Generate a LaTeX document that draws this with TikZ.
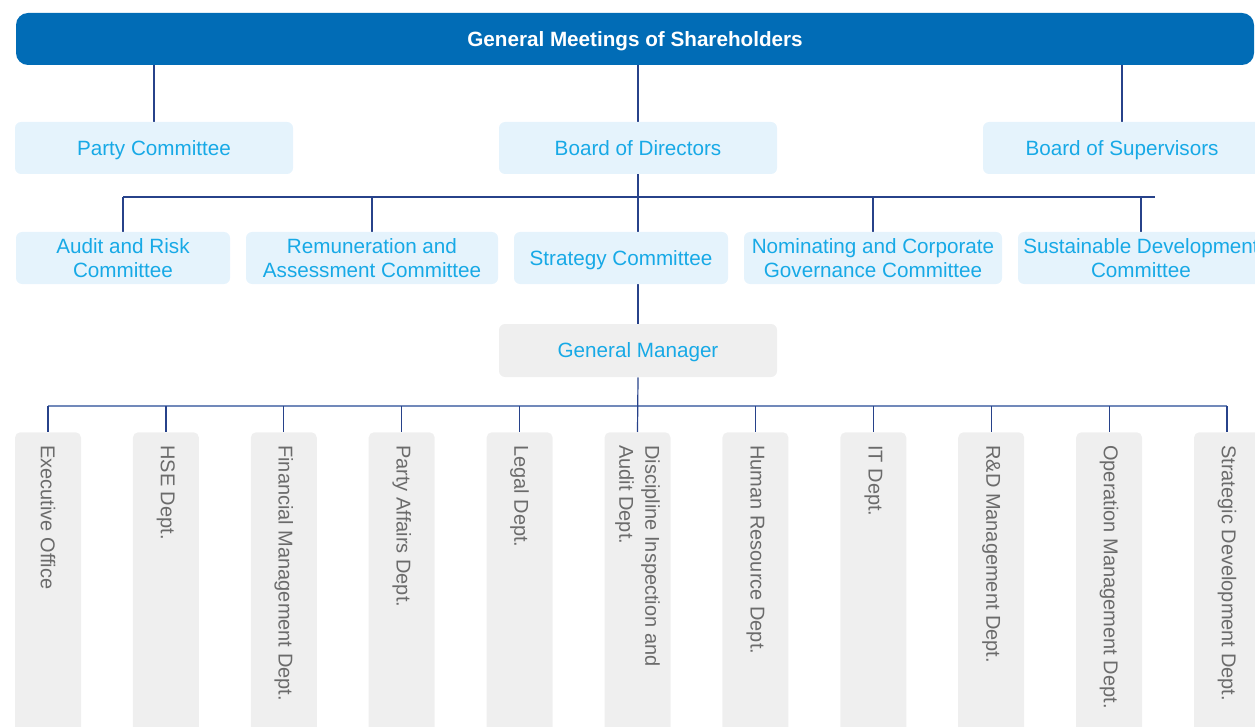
\documentclass[tikz,border=0pt]{standalone}
\usepackage{fontspec}
\setmainfont{Liberation Sans}
\usetikzlibrary{backgrounds}
\definecolor{gmsblue}{HTML}{016CB6}
\definecolor{paleblue}{HTML}{E5F3FC}
\definecolor{cyantext}{HTML}{17A9E6}
\definecolor{palegray}{HTML}{EFEFEF}
\definecolor{graytext}{HTML}{6B6B6B}
\definecolor{linkblue}{HTML}{27428A}
\definecolor{buslight}{HTML}{7189BA}
\tikzset{
	oneline/.style={text height=11.2pt, text depth=0pt},
	twoline/.style={},
	gms/.style={oneline, rounded corners=9pt, fill=gmsblue, text=white, inner sep=0, font=\fontsize{15.5}{18}\selectfont\bfseries},
	board/.style={rounded corners=4.5pt, fill=paleblue, text=cyantext, inner sep=0, align=center},
	gmbox/.style={oneline, rounded corners=4.5pt, fill=palegray, text=cyantext, inner sep=0},
	dept/.style={rounded corners=4pt, fill=palegray, inner sep=0},
	deptlabel/.style={text=graytext, inner sep=0, align=left, font=\fontsize{15}{19.5}\selectfont},
	link/.style={draw=linkblue, line width=0.9pt},
	bus/.style={draw=buslight, line width=1.4pt}
}

\begin{document}
\begin{tikzpicture}[x=0.75pt, y=-0.75pt, font=\fontsize{15.5}{18}\selectfont]
	\def\px{0.75pt} % one pixel of the reference
	\path[use as bounding box] (0,0) rectangle (1255,727);
	
	%--- shareholders ---
	\node[gms, minimum width=1238*\px, minimum height=52*\px] (gms) at (635,39) {General Meetings of Shareholders};
	
	%--- second level ---
	\node[board, oneline, minimum width=278*\px, minimum height=52*\px] (pc) at (154,148) {Party Committee};
	\node[board, oneline, minimum width=278*\px, minimum height=52*\px] (bod) at (638,148) {Board of Directors};
	\node[board, oneline, minimum width=278*\px, minimum height=52*\px] (bos) at (1122,148) {Board of Supervisors};
	
	%--- board committees ---
	\foreach \n/\x/\w/\s/\t in {arc/123/214/twoline/{Audit and Risk\\Committee},
		rac/372/252/twoline/{Remuneration and\\Assessment Committee},
		sc/621/214/oneline/{Strategy Committee},
		ngc/873/258/twoline/{Nominating and Corporate\\Governance Committee},
		sdc/1141/246/twoline/{Sustainable Development\\Committee}}{
		\node[board, \s, minimum width=\w*\px, minimum height=52*\px] (\n) at (\x,258) {\t};}
	
	%--- general manager ---
	\node[gmbox, minimum width=278*\px, minimum height=53*\px] (gm) at (638,350.5) {General Manager};
	
	%--- departments (11 columns, cut at the bottom) ---
	\foreach \t [count=\i from 0] in {Executive Office, HSE Dept., Financial Management Dept.,
		Party Affairs Dept., Legal Dept., {Discipline Inspection and\\Audit Dept.},
		Human Resource Dept., IT Dept., R\&D Management Dept.,
		Operation Management Dept., Strategic Development Dept.}{
		\node[dept, minimum width=66*\px, minimum height=330*\px, anchor=north] (d\i) at (48+117.9*\i,432) {};
		\node[deptlabel, anchor=west, rotate=-90] (dl\i) at ([yshift=-13*\px]d\i.north) {\t};}
	
	%--- connectors ---
	\coordinate (cl) at (123,197);
	\coordinate (cr) at (1155,197);
	\coordinate (dbus) at (638,406);
	\begin{scope}[on background layer]
	% shareholders -> second level
	\draw[link] (pc.north |- gms.south) -- (pc.north);
	\draw[link] (bod.north |- gms.south) -- (bod.north);
	\draw[link] (bos.north |- gms.south) -- (bos.north);
	% board -> committees
	\draw[link] (cl) -- (cr);
	\foreach \n in {arc,rac,ngc,sdc}
		\draw[link] (\n.north |- cl) -- (\n.north);
	\draw[link] (bod.south) -- (gm.north);
	% general manager -> departments
	\draw[bus] (d0.north |- dbus) -- (d10.north |- dbus);
	\foreach \i in {0,...,10}
		\draw[link] (d\i.north |- dbus) -- (d\i.north);
	\draw[link] (gm.south) -- (d5.north);
	\end{scope}
\end{tikzpicture}
\end{document}
